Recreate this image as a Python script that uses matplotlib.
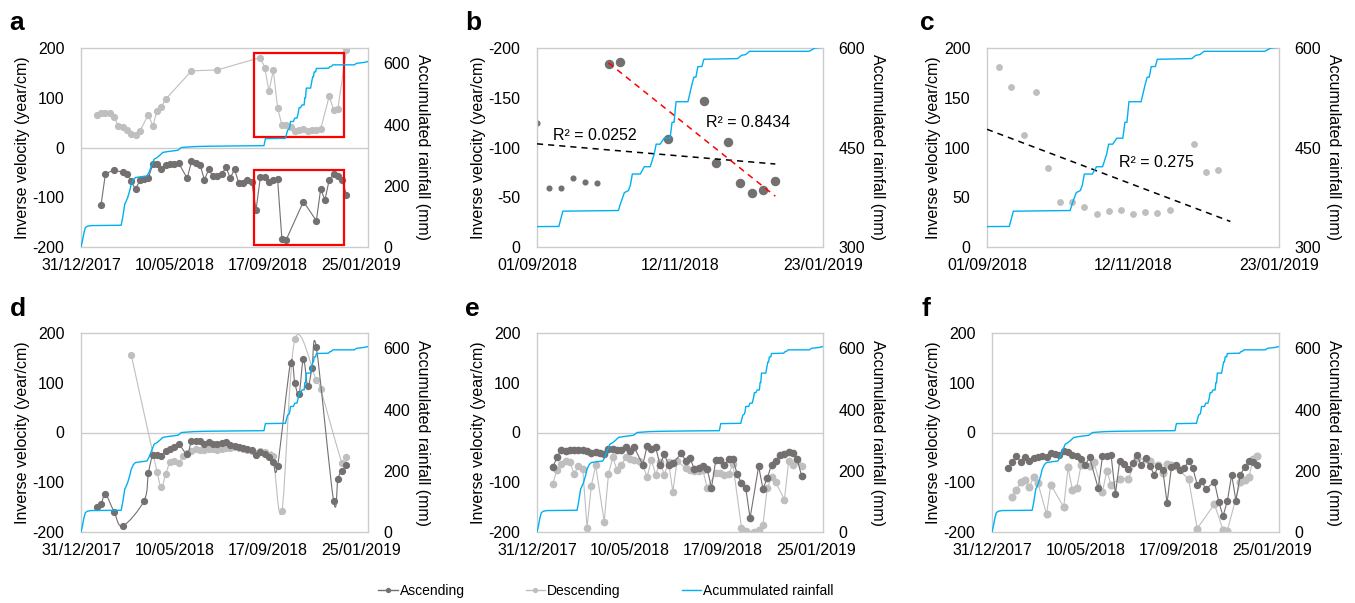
import numpy as np
import matplotlib
matplotlib.use('Agg')
import matplotlib.pyplot as plt
import matplotlib.dates as mdates
from matplotlib.path import Path
from matplotlib.patches import PathPatch, Rectangle
from matplotlib.lines import Line2D

plt.rcParams['font.family'] = ['Liberation Sans', 'DejaVu Sans']
plt.rcParams['font.size'] = 11.5
plt.rcParams['axes.unicode_minus'] = False

START = np.datetime64('2017-12-31')
DARK = '#747070'
LIGHT = '#bfbfbf'
BLUE = '#00b0f0'
FRAME = '#cccccc'

# accumulated rainfall (days after 31/12/2017, mm)
rain_days = [0, 2, 4, 6, 9, 14, 56, 58, 61, 63, 65, 68, 70, 73, 76, 92, 95, 97, 100, 102,
             106, 110, 114, 122, 135, 140, 158, 175, 210, 255, 257, 285, 286, 288, 290, 291,
             292, 296, 298, 301, 303, 304, 306, 308, 311, 312, 313, 314, 320, 322, 323, 324,
             325, 327, 328, 345, 347, 349, 351, 381, 384, 395, 400]
rain_mm = [0, 20, 45, 63, 68, 70, 71, 95, 140, 150, 161, 185, 205, 220, 227, 232, 245, 258, 275, 287,
           292, 300, 309, 312, 316, 325, 328, 329, 330, 331, 354, 355, 365, 382, 385, 393,
           410, 410, 421, 421, 440, 455, 455, 464, 464, 488, 488, 519, 519, 545, 556, 556,
           572, 572, 583, 584, 589, 590, 595, 595, 600, 603, 606]

# a
a_asc_days = [28, 34, 46, 58, 64, 70, 76, 82, 88, 94, 100, 106, 112, 118, 124, 130, 136, 148, 154, 160,
              166, 172, 178, 184, 190, 196, 202, 208, 214, 220, 226, 232, 238, 244, 250, 256, 262, 268, 274, 280,
              286, 310, 328, 334, 340, 346, 352, 358, 364, 370]
a_asc_vel = [-115, -53, -45, -50, -53, -68, -84, -66, -63, -61, -34, -34, -43, -36, -33, -33, -31, -62, -28, -31,
             -35, -65, -44, -58, -58, -54, -40, -61, -44, -72, -72, -65, -70, -125, -59.5, -59.5, -69.6, -65.2, -63.9, -184.2,
             -185.5, -108.6, -147.2, -84, -105.2, -64.5, -53.8, -56.8, -66.2, -95]
a_desc_days = [22, 28, 34, 40, 46, 52, 58, 64, 70, 76, 82, 94, 100, 106, 112, 118, 154, 190,
               250, 256, 262, 268, 274, 280, 286, 292, 298, 304, 310, 316, 322, 328, 334, 346, 352, 358, 370]
a_desc_vel = [66, 69, 70, 69, 62, 43, 42, 36, 28, 26, 33, 66, 43, 74, 82, 97, 154, 156,
              180.8, 160.7, 112.6, 155.6, 79.7, 45.4, 45.4, 40.3, 32.9, 36, 37.6, 33.6, 35, 34.6, 37, 103.2, 75.6, 77.6, 196]

# b: ascending, before and during the rainy period
b_pre_days = [244, 250, 256, 262, 268, 274]
b_pre_vel = [-125, -59.5, -59.5, -69.6, -65.2, -63.9]
b_wet_days = [280, 286, 310, 328, 334, 340, 346, 352, 358, 364]
b_wet_vel = [-184.2, -185.5, -108.6, -147.2, -84, -105.2, -64.5, -53.8, -56.8, -66.2]

# c: descending
c_days = [250, 256, 262, 268, 274, 280, 286, 292, 298, 304, 310, 316, 322, 328, 334, 346, 352, 358]
c_vel = [180.8, 160.7, 112.6, 155.6, 79.7, 45.4, 45.4, 40.3, 32.9, 36, 37.6, 33.6, 35, 34.6, 37, 103.2, 75.6, 77.6]

# d
d_asc_days = [22, 28, 34, 46, 58, 88, 94, 100, 106, 112, 118, 124, 130, 136, 148, 154, 160, 166, 172, 178,
              184, 190, 196, 202, 208, 214, 220, 226, 232, 238, 244, 250, 256, 262, 268, 274, 292, 298, 304, 310,
              316, 322, 328, 352, 358, 364, 370]
d_asc_vel = [-150, -144, -124, -159, -188, -137, -81, -45, -45, -47, -38, -34, -30, -23, -43, -17, -17, -18, -23, -20,
             -23, -23, -22, -20, -25, -27, -30, -32, -33, -35, -46, -40, -43, -50, -60, -67, 140, 99, 78, 148,
             93, 130, 171, -137, -93, -77, -66]
d_desc_days = [70, 106, 112, 118, 124, 130, 136, 142, 148, 154, 160, 166, 172, 178, 184, 190, 196, 202, 208, 214,
               220, 226, 232, 238, 244, 250, 256, 262, 268, 280, 298, 328, 334, 364, 370]
d_desc_vel = [156, -79, -110, -84, -60, -58, -62, -48, -42, -38, -33, -35, -35, -34, -33, -36, -34, -31, -32, -30,
              -32, -33, -35, -38, -42, -38, -40, -45, -47, -158, 187, 105, 87, -62, -50]

# e
e_asc_days = [22, 28, 34, 40, 46, 52, 58, 64, 70, 76, 82, 88, 94, 100, 106, 112, 118, 124, 130, 136,
              148, 154, 160, 166, 172, 178, 184, 190, 202, 208, 214, 220, 226, 232, 238, 244, 250, 256, 262, 268,
              274, 280, 286, 292, 298, 310, 316, 322, 328, 334, 340, 346, 352, 358, 364, 370]
e_asc_vel = [-70, -50, -35, -38, -35, -35, -35, -36, -38, -42, -40, -42, -43, -33, -33, -35, -36, -30, -38, -30,
             -65, -27, -33, -30, -65, -44, -65, -62, -42, -57, -52, -73, -72, -67, -73, -111, -56, -56, -65, -54,
             -53, -84, -102, -112, -172, -68, -113, -92, -65, -58, -45, -44, -40, -42, -54, -87]
e_desc_days = [22, 28, 34, 40, 46, 52, 58, 64, 70, 76, 82, 94, 100, 106, 112, 118, 124, 130, 136, 142,
               148, 154, 160, 166, 172, 178, 184, 190, 196, 208, 214, 220, 226, 232, 238, 250, 256, 262, 268, 274,
               286, 292, 304, 310, 316, 322, 328, 334, 346, 352, 358, 364, 370]
e_desc_vel = [-103, -75, -64, -57, -60, -83, -67, -74, -191, -107, -66, -179, -83, -50, -76, -66, -50, -53, -55, -57,
              -66, -89, -55, -85, -60, -85, -60, -119, -57, -72, -75, -78, -78, -76, -111, -82, -82, -85, -84, -64,
              -191, -198, -199, -195, -186, -112, -90, -100, -135, -58, -65, -57, -67]

# f
f_asc_days = [22, 28, 34, 40, 46, 52, 58, 64, 70, 76, 82, 88, 94, 100, 106, 112, 118, 124, 130, 136,
              148, 154, 160, 166, 172, 178, 184, 190, 196, 202, 208, 214, 220, 226, 232, 238, 244, 250, 256, 262,
              268, 274, 280, 286, 292, 298, 310, 316, 322, 328, 334, 340, 346, 352, 358, 364, 370]
f_asc_vel = [-72, -60, -47, -60, -50, -57, -52, -50, -47, -50, -42, -44, -45, -37, -40, -45, -48, -54, -65, -50,
             -112, -48, -48, -46, -124, -57, -64, -74, -62, -45, -66, -52, -67, -85, -68, -75, -142, -70, -65, -75,
             -72, -57, -72, -105, -97, -114, -99, -139, -168, -138, -85, -137, -85, -70, -58, -60, -66]
f_desc_days = [28, 34, 40, 46, 52, 58, 64, 76, 82, 100, 106, 112, 118, 124, 136, 142, 154, 160, 166, 178,
               190, 202, 214, 220, 232, 238, 244, 250, 256, 274, 286, 310, 322, 328, 346, 352, 358, 364, 370]
f_desc_vel = [-129, -115, -100, -95, -110, -89, -102, -164, -105, -150, -70, -115, -112, -66, -68, -60, -119, -77, -105, -93,
              -93, -52, -54, -58, -65, -82, -64, -66, -68, -94, -193, -144, -196, -197, -100, -95, -90, -53, -48]

long_ticks = ['2017-12-31', '2018-05-10', '2018-09-17', '2019-01-25']
short_ticks = ['2018-09-01', '2018-11-12', '2019-01-23']


def to_dates(days):
    return START + np.array(days).astype('timedelta64[D]')


def smooth_path(x, y):
    # Catmull-Rom through the points, written as cubic Bezier segments
    pts = np.column_stack([x, y])
    verts = [pts[0]]
    codes = [Path.MOVETO]
    n = len(pts)
    for i in range(n - 1):
        p0 = pts[max(i - 1, 0)]
        p1 = pts[i]
        p2 = pts[i + 1]
        p3 = pts[min(i + 2, n - 1)]
        verts += [p1 + (p2 - p0) / 6, p2 - (p3 - p1) / 6, p2]
        codes += [Path.CURVE4] * 3
    return Path(verts, codes)


W, H = 1355, 603
fig = plt.figure(figsize=(W / 100, H / 100), dpi=100)


def make_panel(left, top, right, bottom, letter, letter_x, letter_y, short=False,
               vlim=(-200, 200), vticks=range(-200, 201, 100), rlim=(0, 650), rticks=range(0, 601, 200),
               left_off=51, right_off=47):
    ax = fig.add_axes([left / W, 1 - bottom / H, (right - left) / W, (bottom - top) / H])
    ax2 = ax.twinx()
    ax2.plot(to_dates(rain_days), rain_mm, color=BLUE, lw=1.0, zorder=3)
    ax2.set_ylim(*rlim)
    ax2.set_yticks(list(rticks))
    if short:
        ax.set_xlim(np.datetime64(short_ticks[0]), np.datetime64(short_ticks[-1]))
        ax.set_xticks([np.datetime64(t) for t in short_ticks])
    else:
        ax.set_xlim(START, START + np.timedelta64(400, 'D'))
        ax.set_xticks([np.datetime64(t) for t in long_ticks])
        ax.axhline(0, color=FRAME, lw=1, zorder=0.5)
    ax.xaxis.set_major_formatter(mdates.DateFormatter('%d/%m/%Y'))
    ax.set_ylim(*vlim)
    ax.set_yticks(list(vticks))
    for s in ax.spines.values():
        s.set_color(FRAME)
        s.set_linewidth(1)
    for s in ax2.spines.values():
        s.set_visible(False)
    ax.tick_params(length=0)
    ax.tick_params(axis='y', pad=12)
    ax.tick_params(axis='x', pad=8)
    ax2.tick_params(length=0, pad=11)
    w = right - left
    ax.set_ylabel('Inverse velocity (year/cm)')
    ax.yaxis.set_label_coords(-left_off / w, 0.5)
    ax2.set_ylabel('Accumulated rainfall (mm)', rotation=270, va='bottom')
    ax2.yaxis.set_label_coords(1 + right_off / w, 0.5)
    fig.text(letter_x / W, 1 - letter_y / H, letter, fontsize=19, fontweight='bold', va='baseline')
    return ax


def plot_series(ax, days, vel, color, ms=4.2, smooth=False):
    x = to_dates(days)
    if smooth:
        ax.plot(x, vel, 'o', color=color, ms=ms, zorder=2)
        path = smooth_path(mdates.date2num(x), np.asarray(vel, float))
        ax.add_patch(PathPatch(path, fill=False, edgecolor=color, lw=0.8, zorder=2))
    else:
        ax.plot(x, vel, '-o', color=color, ms=ms, lw=0.8, zorder=2)


# a
ax_a = make_panel(81, 48, 368, 247, 'a', 9, 30)
plot_series(ax_a, a_desc_days, a_desc_vel, LIGHT)
plot_series(ax_a, a_asc_days, a_asc_vel, DARK)
box_x0 = mdates.date2num(np.datetime64('2018-08-29'))
box_w = 126
ax_a.add_patch(Rectangle((box_x0, 22), box_w, 168, fill=False, edgecolor='red', lw=1.6, zorder=4))
ax_a.add_patch(Rectangle((box_x0, -195), box_w, 150, fill=False, edgecolor='red', lw=1.6, zorder=4))

# b
ax_b = make_panel(537, 48, 823, 247, 'b', 465, 30, short=True, vlim=(0, -200),
                  vticks=range(0, -201, -50), rlim=(300, 600), rticks=[300, 450, 600])
ax_b.plot(to_dates(b_pre_days), b_pre_vel, 'o', color=DARK, ms=3.4, zorder=2)
ax_b.plot(to_dates(b_wet_days), b_wet_vel, 'o', color=DARK, ms=5.8, zorder=2)
all_days = np.array(b_pre_days + b_wet_days, float)
all_vel = np.array(b_pre_vel + b_wet_vel, float)
k, c0 = np.polyfit(all_days, all_vel, 1)
xs = np.array([b_pre_days[0], b_wet_days[-1]])
ax_b.plot(to_dates(xs), k * xs + c0, color='black', lw=1.1, dashes=(4, 3.3), zorder=3)
k, c0 = np.polyfit(b_wet_days, b_wet_vel, 1)
xs = np.array([b_wet_days[0], b_wet_days[-1]])
ax_b.plot(to_dates(xs), k * xs + c0, color='red', lw=1.1, dashes=(4, 3.3), zorder=3)
ax_b.text(to_dates([252])[0], -112, 'R² = 0.0252', va='center', zorder=5)
ax_b.text(to_dates([329])[0], -125, 'R² = 0.8434', va='center', zorder=5)

# c
ax_c = make_panel(987, 48, 1279, 247, 'c', 920, 30, short=True, vlim=(0, 200),
                  vticks=range(0, 201, 50), rlim=(300, 600), rticks=[300, 450, 600], left_off=46)
ax_c.plot(to_dates(c_days), c_vel, 'o', color=LIGHT, ms=3.9, zorder=2)
k, c0 = np.polyfit(c_days, c_vel, 1)
xs = np.array([244, 364])
ax_c.plot(to_dates(xs), k * xs + c0, color='black', lw=1.1, dashes=(4, 3.3), zorder=3)
ax_c.text(to_dates([309])[0], 85, 'R² = 0.275', va='center', zorder=5)

# d
ax_d = make_panel(81, 333, 368, 532, 'd', 10, 316)
plot_series(ax_d, d_desc_days, d_desc_vel, LIGHT, smooth=True)
plot_series(ax_d, d_asc_days, d_asc_vel, DARK, smooth=True)

# e
ax_e = make_panel(537, 333, 823, 532, 'e', 465, 316)
plot_series(ax_e, e_desc_days, e_desc_vel, LIGHT, ms=4.5)
plot_series(ax_e, e_asc_days, e_asc_vel, DARK, ms=4.5)

# f
ax_f = make_panel(992, 333, 1279, 532, 'f', 922, 316)
plot_series(ax_f, f_desc_days, f_desc_vel, LIGHT, ms=4.8)
plot_series(ax_f, f_asc_days, f_asc_vel, DARK, ms=4.3)

handles = [Line2D([], [], color=DARK, marker='o', ms=2.8, lw=1),
           Line2D([], [], color=LIGHT, marker='o', ms=2.8, lw=1),
           Line2D([], [], color=BLUE, lw=1)]
fig.legend(handles, ['Ascending', 'Descending', 'Acummulated rainfall'], loc='center',
           bbox_to_anchor=(606 / W, 1 - 591 / H), ncol=3, frameon=False,
           handlelength=1.4, handletextpad=0.15, columnspacing=4.4, fontsize=10)

fig.savefig('out.png', dpi=100)
